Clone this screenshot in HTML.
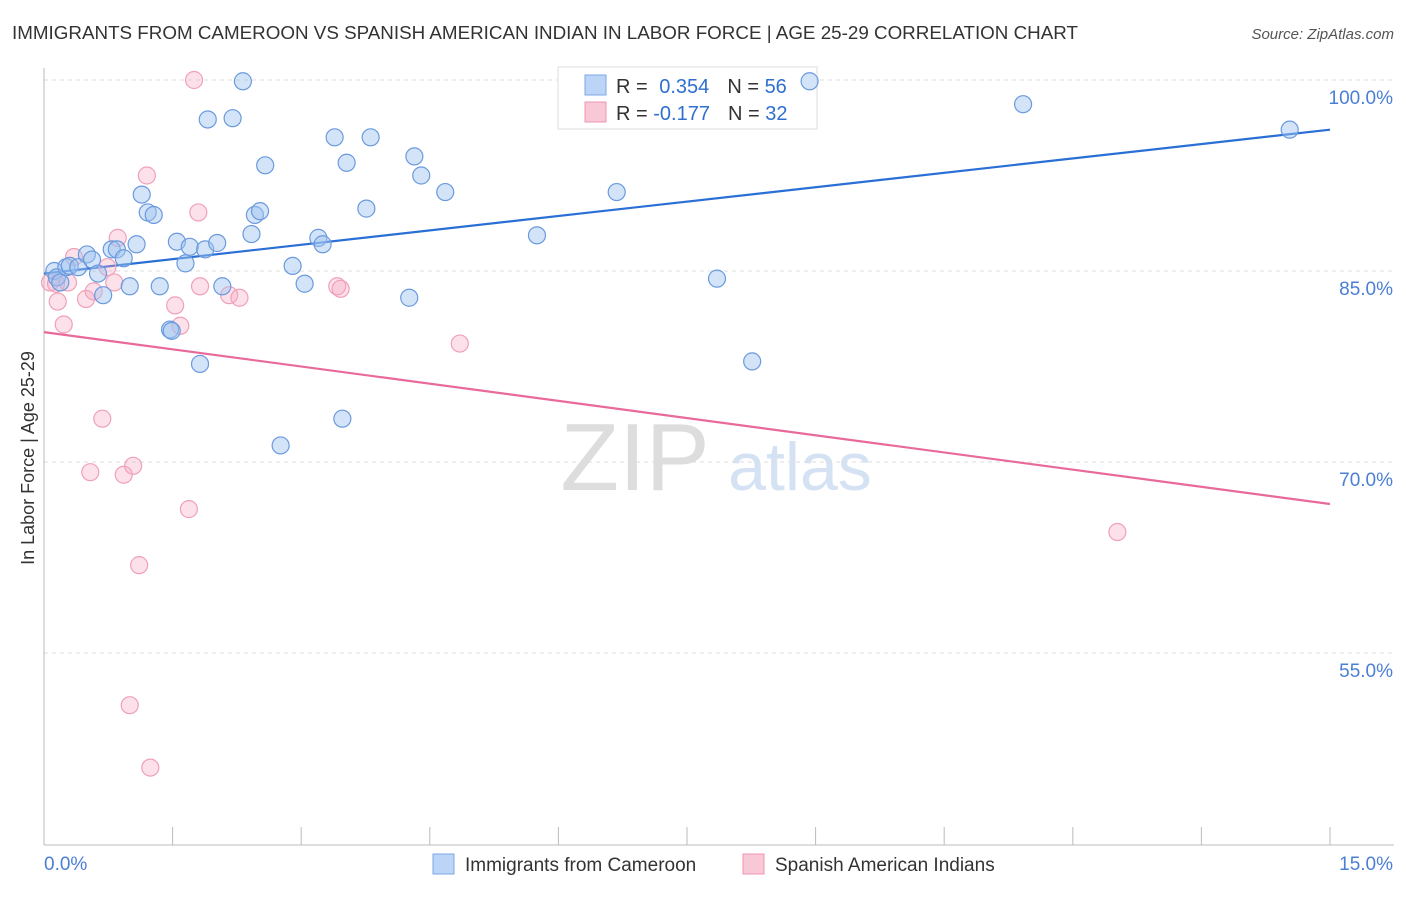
<!DOCTYPE html>
<html><head><meta charset="utf-8"><style>
body{margin:0;background:#fff;font-family:"Liberation Sans",sans-serif;}
svg text{font-family:"Liberation Sans",sans-serif;}
</style></head><body>
<svg id="chart" width="1406" height="892">
<text x="12" y="39" font-size="18" fill="#333" textLength="1066" lengthAdjust="spacingAndGlyphs">IMMIGRANTS FROM CAMEROON VS SPANISH AMERICAN INDIAN IN LABOR FORCE | AGE 25-29 CORRELATION CHART</text>
<text x="1394" y="39" font-size="15" fill="#555" font-style="italic" text-anchor="end">Source: ZipAtlas.com</text>
<text transform="translate(34,458) rotate(-90)" font-size="18" fill="#333" text-anchor="middle">In Labor Force | Age 25-29</text>
<text x="635" y="490" font-size="96" fill="#ddd" font-family="Liberation Serif" text-anchor="middle">ZIP</text>
<text x="800" y="490" font-size="68" fill="#d4e2f4" text-anchor="middle">atlas</text>
<g id="grid"></g><g id="axes"></g><g id="lines"></g>
<g>
<rect x="558" y="67" width="259" height="62" fill="#fff" stroke="#ddd"/>
<rect x="585" y="75" width="21" height="20" fill="#bcd4f5" stroke="#7aa7e8"/>
<rect x="585" y="102" width="21" height="20" fill="#f9c8d6" stroke="#f095b0"/>
<text x="616" y="93" font-size="20" fill="#333">R = <tspan fill="#2f6fd0" dx="6">0.354</tspan><tspan fill="#333" dx="18">N = </tspan><tspan fill="#2f6fd0">56</tspan></text>
<text x="616" y="120" font-size="20" fill="#333">R = <tspan fill="#2f6fd0">-0.177</tspan><tspan fill="#333" dx="18">N = </tspan><tspan fill="#2f6fd0">32</tspan></text>
</g>
<g id="pts"></g>
<g>
<rect x="433" y="854" width="21" height="20" fill="#bcd4f5" stroke="#7aa7e8"/>
<text x="465" y="871" font-size="19" fill="#333">Immigrants from Cameroon</text>
<rect x="743" y="854" width="21" height="20" fill="#f9c8d6" stroke="#f095b0"/>
<text x="775" y="871" font-size="19" fill="#333">Spanish American Indians</text>
</g>
</svg>
<script>
const yTicks=[100,85,70,55];
const xTickLabels=["0.0%","15.0%"];
const blueX=[0.12,0.15,0.19,0.26,0.30,0.40,0.50,0.56,0.63,0.69,0.79,0.85,0.93,1.00,1.08,1.14,1.21,1.28,1.35,1.47,1.49,1.55,1.65,1.70,1.82,1.88,1.91,2.02,2.08,2.20,2.32,2.42,2.46,2.52,2.58,2.76,2.90,3.04,3.20,3.25,3.39,3.48,3.53,3.76,3.81,4.26,4.32,4.40,4.68,5.75,6.68,7.85,8.26,8.93,11.42,14.53];
const blueY=[85.0,84.5,84.1,85.3,85.4,85.3,86.3,85.9,84.8,83.1,86.7,86.7,86.0,83.8,87.1,91.0,89.6,89.4,83.8,80.4,80.3,87.3,85.6,86.9,77.7,86.7,96.9,87.2,83.8,97.0,99.9,87.9,89.4,89.7,93.3,71.3,85.4,84.0,87.6,87.1,95.5,73.4,93.5,89.9,95.5,82.9,94.0,92.5,91.2,87.8,91.2,84.4,77.9,99.9,98.1,96.1];
const pinkX=[0.07,0.14,0.16,0.23,0.28,0.35,0.49,0.54,0.58,0.68,0.74,0.82,0.86,0.93,1.00,1.04,1.11,1.20,1.24,1.53,1.59,1.69,1.75,1.80,1.82,2.16,2.28,3.42,3.46,4.85,12.52];
const pinkY=[84.1,84.0,82.6,80.8,84.1,86.1,82.8,69.2,83.4,73.4,85.3,84.1,87.6,69.0,50.9,69.7,61.9,92.5,46.0,82.3,80.7,66.3,100.0,89.6,83.8,83.1,82.9,83.8,83.6,79.3,64.5];
const blueLine=[84.8,96.1]; // values at x=0 and x=15
const pinkLine=[80.2,66.7];
const NS='http://www.w3.org/2000/svg';
const X=v=>44+v*(1330-44)/15;
const Y=v=>80+(100-v)*(271-80)/15;
function mk(t,a,p){const e=document.createElementNS(NS,t);for(const k in a)e.setAttribute(k,a[k]);document.getElementById(p).appendChild(e);return e;}
yTicks.forEach(t=>{
 const l=mk('line',{x1:44,x2:1394,y1:Y(t),y2:Y(t),stroke:'#ddd','stroke-dasharray':'4,4'},'grid');
 
 
 const tx=mk('text',{x:1393,y:Y(t)+24,'font-size':19,fill:'#4a7fd4','text-anchor':'end'},'grid');
 tx.textContent=t.toFixed(1)+'%';
 
 
});
mk('line',{x1:44,x2:44,y1:68,y2:845,stroke:'#bbb'},'axes');
mk('line',{x1:44,x2:1394,y1:845,y2:845,stroke:'#bbb'},'axes');
for(let i=1;i<=10;i++){const tk=mk('line',{x1:X(i*1.5),x2:X(i*1.5),y1:827,y2:845,stroke:'#bbb'},'axes');
 
 }
const xl0=mk('text',{x:44,y:870,'font-size':19,fill:'#4a7fd4'},'axes');xl0.textContent=xTickLabels[0];


const xl1=mk('text',{x:1393,y:870,'font-size':19,fill:'#4a7fd4','text-anchor':'end'},'axes');xl1.textContent=xTickLabels[1];


function pts(xs,ys,f,s,n){xs.forEach((x,i)=>{const c=mk('circle',{cx:X(x),cy:Y(ys[i]),r:8.5,fill:f,stroke:s,'stroke-width':1.2},'pts');
 
 });}
pts(pinkX,pinkY,'rgba(246,170,195,0.35)','#f0a0b8','pink-point');
pts(blueX,blueY,'rgba(160,195,240,0.45)','#6a9ade','blue-point');
const bl=mk('line',{x1:X(0),y1:Y(blueLine[0]),x2:X(15),y2:Y(blueLine[1]),stroke:'#2a6fd6','stroke-width':2.2},'lines');


const pl=mk('line',{x1:X(0),y1:Y(pinkLine[0]),x2:X(15),y2:Y(pinkLine[1]),stroke:'#e8699a','stroke-width':2.2},'lines');


</script>
</body></html>
